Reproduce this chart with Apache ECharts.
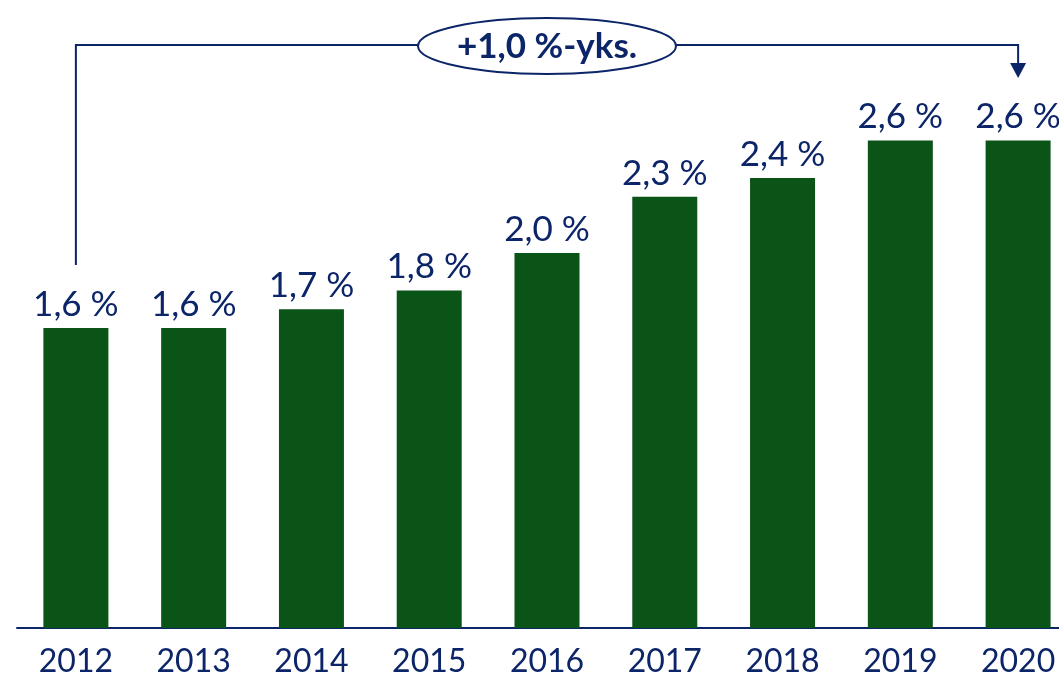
<!DOCTYPE html>
<html>
<head>
<meta charset="utf-8">
<script src="https://cdn.jsdelivr.net/npm/echarts@6/dist/echarts.min.js"></script>
<style>
  html, body { margin: 0; padding: 0; background: #ffffff; overflow: hidden; }
  #main { width: 1080px; height: 682px; }
</style>
</head>
<body>
<div id="main"></div>
<script>
const years = ['2012', '2013', '2014', '2015', '2016', '2017', '2018', '2019', '2020'];
const shares = [1.6, 1.6, 1.7, 1.8, 2.0, 2.3, 2.4, 2.6, 2.6];
const changeLabel = '+1,0 %-yks.';

const navy = '#0c2568';
const green = '#0a5417';
const font = 'Lato';

const el = document.getElementById('main');
const myChart = echarts.init(el);

let option = {
  animation: false,
  grid: {
    left: 17,
    top: 28,
    width: 1060,
    height: 600
  },
  xAxis: {
    type: 'category',
    data: years,
    axisLine: {lineStyle: {color: navy, width: 2}},
    axisTick: {show: false},
    axisLabel: {
      color: navy,
      fontFamily: font,
      fontSize: 32,
      margin: 18
    }
  },
  yAxis: {
    type: 'value',
    min: 0,
    max: 3.2,
    show: false
  },
  series: [{
    type: 'bar',
    data: shares,
    barWidth: 65,
    itemStyle: {color: green},
    label: {
      show: true,
      position: 'top',
      distance: 6,
      color: navy,
      fontFamily: font,
      fontSize: 35,
      formatter: function (p) {
        return p.value.toFixed(1).replace('.', ',') + ' %';
      }
    }
  }]
};
myChart.setOption(option);

// bracket from first to last year
const first = myChart.convertToPixel({seriesIndex: 0}, [0, shares[0]]);
const last = myChart.convertToPixel({seriesIndex: 0}, [years.length - 1, shares[shares.length - 1]]);
const lineY = 45;
const midX = (first[0] + last[0]) / 2;

myChart.setOption({
  graphic: [
    {
      type: 'polyline',
      shape: {points: [[first[0], first[1] - 63], [first[0], lineY], [last[0], lineY], [last[0], lineY + 20]]},
      style: {stroke: navy, lineWidth: 2, fill: null}
    },
    {
      type: 'polygon',
      shape: {points: [[last[0] - 8, lineY + 18], [last[0] + 8, lineY + 18], [last[0], lineY + 33]]},
      style: {fill: navy}
    },
    {
      type: 'ellipse',
      shape: {cx: midX, cy: lineY + 1, rx: 129, ry: 28},
      style: {fill: '#ffffff', stroke: navy, lineWidth: 2}
    },
    {
      type: 'text',
      x: midX,
      y: lineY + 2,
      style: {
        text: changeLabel,
        fill: navy,
        font: 'bold 35px ' + font,
        align: 'center',
        verticalAlign: 'middle'
      }
    }
  ]
});
</script>
</body>
</html>
